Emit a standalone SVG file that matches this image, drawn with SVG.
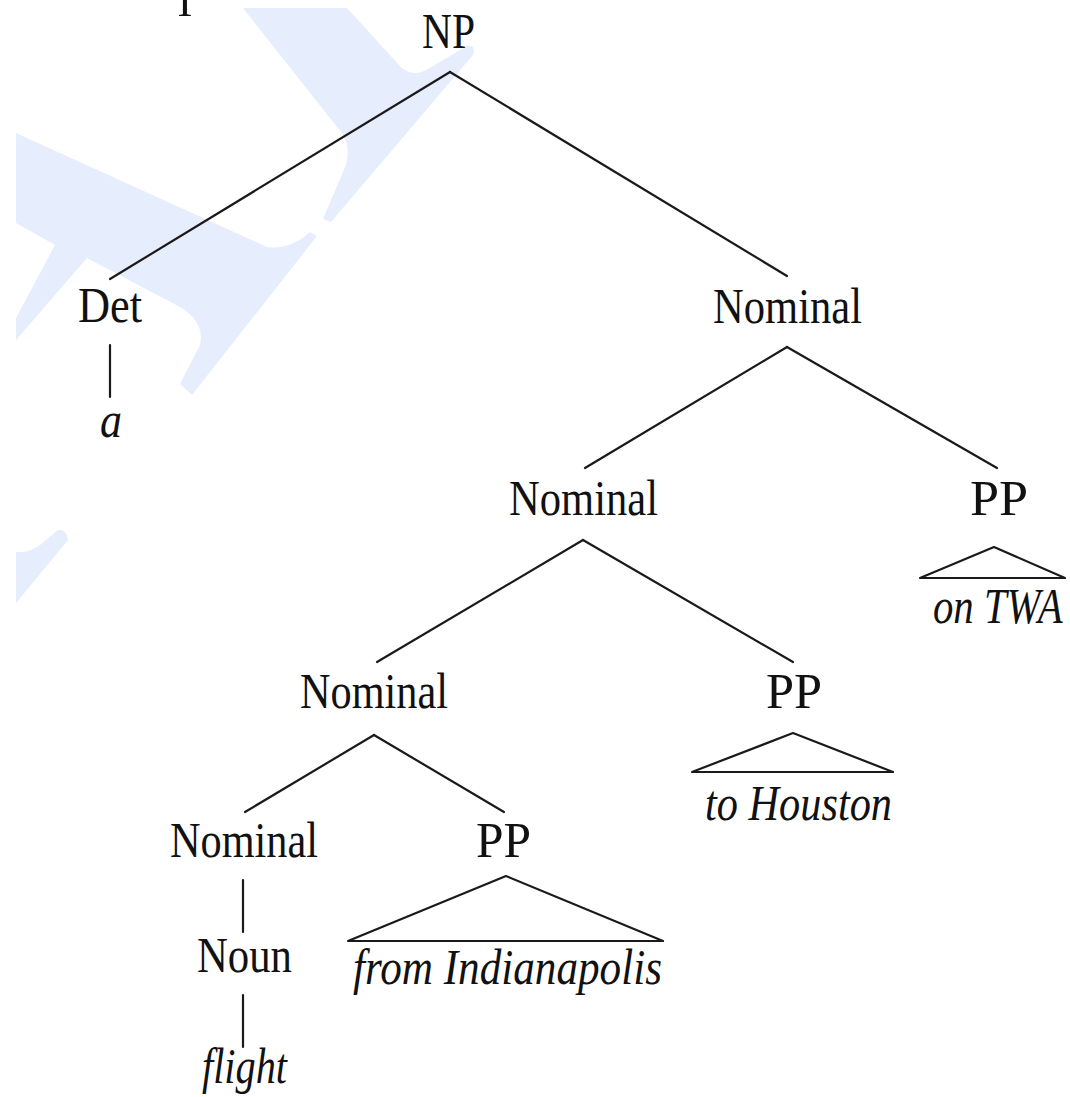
<svg xmlns="http://www.w3.org/2000/svg" width="1070" height="1097" viewBox="0 0 1070 1097">
  <style>
    .lbl { font-family: "Liberation Serif", "Times New Roman", serif; font-size: 50px; fill: #111; }
    .leaf { font-family: "Liberation Serif", "Times New Roman", serif; font-size: 50px; font-style: italic; fill: #111; }
    .edge { stroke: #1a1a1a; stroke-width: 2.2; fill: none; stroke-linecap: round; }
    .roof { stroke: #1a1a1a; stroke-width: 2.2; fill: none; stroke-linejoin: round; }
    .mark { fill: #e6edfd; }
  </style>

  <rect width="1070" height="1097" fill="#ffffff"/>

  <!-- pale aeroplane watermark behind the tree -->
  <g id="watermark">
    <path class="mark" d="M243,8 L347,8 L398,64 Q411,79 428,69 L467,46 Q476,44 473,55 L331,222 L323,219 L346,165 Q352,142 337,127 Z"/>
    <path class="mark" d="M16,133 L267,247 Q290,250 310,232 L317,236 L192,395 L180,384 L200,345 Q205,322 180,307 L87,258 L16,340 L16,318 L55,245 L16,223 Z"/>
    <path class="mark" d="M16,552 Q30,553 40,545 L58,530 Q66,528 68,540 L16,603 Z"/>
  </g>

  <!-- stray glyph cut by the top edge -->
  <text class="lbl" x="178" y="16" font-size="44">l</text>

  <!-- branches -->
  <g id="connectors">
    <line class="edge" x1="450" y1="72" x2="110" y2="279"/>
    <line class="edge" x1="450" y1="72" x2="787" y2="276"/>
    <line class="edge" x1="110" y1="345" x2="110" y2="397"/>
    <line class="edge" x1="787" y1="347" x2="585" y2="468"/>
    <line class="edge" x1="787" y1="347" x2="997" y2="468"/>
    <line class="edge" x1="583" y1="540" x2="377" y2="662"/>
    <line class="edge" x1="583" y1="540" x2="793" y2="662"/>
    <line class="edge" x1="374" y1="735" x2="245" y2="812"/>
    <line class="edge" x1="374" y1="735" x2="504" y2="812"/>
    <line class="edge" x1="243" y1="880" x2="243" y2="932"/>
    <line class="edge" x1="243" y1="995" x2="243" y2="1047"/>
    <!-- collapsed constituents -->
    <path class="roof" d="M920,578 L994,547 L1065,578 Z"/>
    <path class="roof" d="M692,772 L793,733 L893,772 Z"/>
    <path class="roof" d="M348,941 L506,876 L663,941 Z"/>
  </g>

  <g id="n-np"><text class="lbl" x="422" y="48" textLength="53" lengthAdjust="spacingAndGlyphs">NP</text></g>
  <g id="n-det"><text class="lbl" x="78" y="322" textLength="64" lengthAdjust="spacingAndGlyphs">Det</text></g>
  <g id="n-a"><text class="leaf" x="100" y="437" textLength="22" lengthAdjust="spacingAndGlyphs">a</text></g>
  <g id="n-nom1"><text class="lbl" x="713" y="323" textLength="149" lengthAdjust="spacingAndGlyphs">Nominal</text></g>
  <g id="n-nom2"><text class="lbl" x="509" y="515" textLength="149" lengthAdjust="spacingAndGlyphs">Nominal</text></g>
  <g id="n-pp1"><text class="lbl" x="970" y="515" textLength="58" lengthAdjust="spacingAndGlyphs">PP</text></g>
  <g id="n-ontwa"><text class="leaf" transform="translate(933,623) scale(0.815,1)">on TWA</text></g>
  <g id="n-nom3"><text class="lbl" x="300" y="708" textLength="148" lengthAdjust="spacingAndGlyphs">Nominal</text></g>
  <g id="n-pp2"><text class="lbl" x="766" y="708" textLength="56" lengthAdjust="spacingAndGlyphs">PP</text></g>
  <g id="n-tohouston"><text class="leaf" x="705" y="820" textLength="187" lengthAdjust="spacingAndGlyphs">to Houston</text></g>
  <g id="n-nom4"><text class="lbl" x="170" y="857" textLength="148" lengthAdjust="spacingAndGlyphs">Nominal</text></g>
  <g id="n-pp3"><text class="lbl" x="476" y="857" textLength="55" lengthAdjust="spacingAndGlyphs">PP</text></g>
  <g id="n-fromind"><text class="leaf" x="353" y="984" textLength="309" lengthAdjust="spacingAndGlyphs">from Indianapolis</text></g>
  <g id="n-noun"><text class="lbl" x="197" y="972" textLength="95" lengthAdjust="spacingAndGlyphs">Noun</text></g>
  <g id="n-flight"><text class="leaf" x="202" y="1083" textLength="85" lengthAdjust="spacingAndGlyphs">flight</text></g>
</svg>
